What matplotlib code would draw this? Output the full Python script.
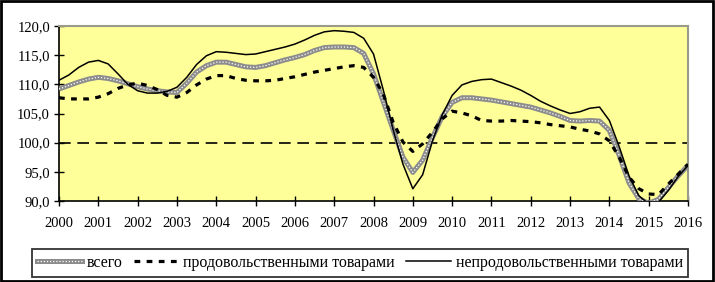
import matplotlib
matplotlib.use("Agg")
import matplotlib.pyplot as plt
from matplotlib.lines import Line2D
from matplotlib.patches import Rectangle
import numpy as np

plt.rcParams['font.family'] = ['Liberation Serif', 'DejaVu Serif']

# quarterly time points 2000.00 ... 2016.00
years = [2000 + 0.25 * i for i in range(65)]

total = [109.2, 109.8, 110.4, 110.9, 111.2, 111.0, 110.6, 110.1,
         109.6, 109.2, 108.9, 108.7, 108.6, 110.2, 112.1, 113.2,
         113.8, 113.8, 113.4, 113.0, 112.9, 113.2, 113.7, 114.2,
         114.6, 115.1, 115.8, 116.3, 116.4, 116.4, 116.3, 115.3,
         111.8, 107.0, 102.2, 97.5, 94.9, 97.0, 100.9, 104.5,
         106.9, 107.7, 107.7, 107.5, 107.3, 107.0, 106.7, 106.4,
         106.1, 105.6, 105.1, 104.5, 103.8, 103.7, 103.8, 103.7,
         102.1, 97.8, 93.1, 90.4, 89.6, 90.3, 92.3, 94.3, 96.1]

food = [107.7, 107.5, 107.5, 107.5, 107.8, 108.4, 109.3, 109.9,
        110.2, 109.8, 109.1, 108.1, 107.8, 108.6, 109.9, 110.9,
        111.5, 111.5, 111.0, 110.7, 110.6, 110.6, 110.7, 111.0,
        111.3, 111.7, 112.1, 112.4, 112.7, 113.0, 113.2, 112.9,
        111.2, 108.3, 103.5, 100.1, 98.5, 99.8, 101.8, 104.1,
        105.4, 105.1, 104.6, 103.8, 103.7, 103.7, 103.8, 103.7,
        103.6, 103.4, 103.1, 102.9, 102.7, 102.3, 102.0, 101.5,
        100.3, 97.5, 94.1, 92.1, 91.2, 91.1, 92.9, 94.6, 96.3]

nonfood = [110.7, 111.6, 112.9, 113.8, 114.1, 113.5, 111.8, 110.0,
           108.9, 108.5, 108.5, 108.8, 109.5, 111.2, 113.4, 114.9,
           115.6, 115.5, 115.3, 115.1, 115.2, 115.6, 116.0, 116.4,
           116.9, 117.6, 118.4, 119.0, 119.2, 119.1, 118.9, 117.9,
           115.2, 109.0, 102.2, 96.3, 92.1, 94.5, 100.3, 104.8,
           108.1, 109.9, 110.5, 110.8, 110.9, 110.3, 109.7, 109.0,
           108.1, 107.1, 106.3, 105.6, 105.0, 105.3, 105.9, 106.1,
           103.8, 99.3, 94.3, 90.9, 89.5, 89.8, 91.8, 94.2, 96.1]

year_ticks = list(range(2000, 2017))
y_ticks = [90, 95, 100, 105, 110, 115, 120]
labels = ['всего', 'продовольственными товарами', 'непродовольственными товарами']

fig = plt.figure(figsize=(7.15, 2.82), dpi=100)
W, H = 715, 282
ax = fig.add_axes([59 / W, 1 - 201 / H, (688 - 59) / W, (201 - 26) / H])
ax.set_facecolor('#FFFF99')

ax.axhline(100, color='black', lw=1.2, dashes=(7, 4), zorder=2)

ax.plot(years, total, color='#8c8c8c', lw=3.6, solid_capstyle='butt', zorder=3)
ax.plot(years, total, color='white', lw=0.9, dashes=(1, 1.5), zorder=3)
ax.plot(years, food, color='black', lw=2.3, dashes=(1.8, 2.0), zorder=4)
ax.plot(years, nonfood, color='black', lw=1.1, zorder=5)

ax.set_xlim(2000, 2016)
ax.set_ylim(90, 120)
ax.set_xticks(year_ticks)
ax.set_xticklabels([str(y) for y in year_ticks])
ax.set_yticks(y_ticks)
ax.set_yticklabels([f'{v},0' for v in y_ticks])
ax.tick_params(axis='both', direction='inout', length=7, width=1, labelsize=10.5,
               color='black')
ax.tick_params(axis='x', pad=8)
ax.tick_params(axis='y', pad=3)
for s in ['top', 'right']:
    ax.spines[s].set_color('#9a9a8a')
    ax.spines[s].set_linewidth(1.5)
for s in ['left', 'bottom']:
    ax.spines[s].set_color('black')
    ax.spines[s].set_linewidth(1.2)

# legend
h_total = (Line2D([], [], color='#8c8c8c', lw=3.6),
           Line2D([], [], color='white', lw=0.9, dashes=(1, 1.5)))
h_food = Line2D([], [], color='black', lw=2.3, dashes=(1.8, 2.0))
h_nonfood = Line2D([], [], color='black', lw=1.1)
leg = fig.legend([h_total, h_food, h_nonfood], labels, ncol=3,
                 loc='center', bbox_to_anchor=(360 / W, 1 - 263 / H),
                 fontsize=11.5, frameon=True, fancybox=False, edgecolor='black',
                 handlelength=2.8, handletextpad=0.3, columnspacing=0.7,
                 borderpad=0.35)
leg.get_frame().set_linewidth(1.3)

fig.patches.append(Rectangle((0.002, 0.004), 0.995, 0.992, transform=fig.transFigure,
                             fill=False, edgecolor='black', lw=2.0))

fig.savefig('out.png', dpi=100)
